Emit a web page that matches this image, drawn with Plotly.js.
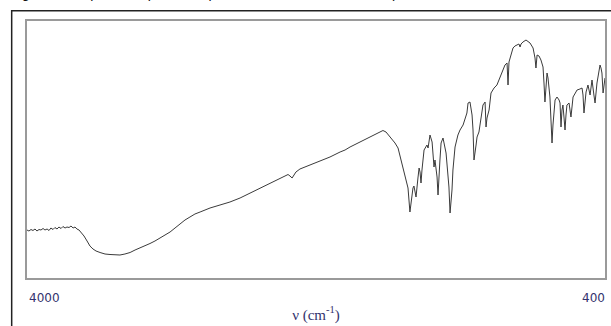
<!DOCTYPE html>
<html>
<head>
<meta charset="utf-8">
<script src="https://cdn.plot.ly/plotly-3.0.1.min.js"></script>
<style>html,body{margin:0;padding:0;background:#fff;}#chart{width:611px;height:326px;}</style>
</head>
<body>
<div id="chart"></div>
<script>
// Wavenumber (cm-1)
const wavenumber = [4000,3988,3975,3963,3950,3938,3925,3913,3900,3888,3875,3863,3851,3838,3826,3813,3801,3788,3776,3763,3751,3738,3726,3713,3701,3689,3676,
3664,3645,3626,3608,3589,3570,3545,3514,3483,3452,3421,3390,3358,3327,3296,3265,3234,3203,3172,3140,3109,3078,3047,3016,2985,2954,2922,2860,2798,2736,2673,2611,2549,2486,2424,2387,2374,2362,2349,2337,2325,2300,2237,2175,2113,2050,2019,
1988,1926,1864,1833,1801,1783,1764,1739,1708,1689,1677,1658,1646,1627,1615,1602,1596,1590,1577,1565,1558,1552,1546,1540,1527,1509,1502,1490,1477,1465,1459,1446,1440,1428,1421,1409,1390,1372,1365,1353,1347,1334,1316,1303,1284,1260,1253,1241,1228,1222,1216,1203,1197,1185,1172,1160,1147,1141,1135,1122,1110,1091,1073,1054,1035,1023,1010,1004,998,985,973,961,948,936,929,923,911,892,867,848,836,830,823,811,799,786,780,774,761,755,743,736,730,724,711,699,686,680,674,668,662,655,649,643,637,624,612,599,587,574,556,543,537,531,518,506,493,481,469,462,450,437,431,425,419,412,406,400];
// Transmittance (arbitrary units)
const transmittance = [48,47,48.5,47.5,49,47,48.5,48,49.5,48,49,47.5,50,48.5,50.5,49,51,49.5,51.5,50,51,50.5,52,50,51,49,48,
46,42,37,32,29,27,25.5,24,23.5,23,23,24,25.5,28,30,32,34.5,37,40,43,46,50,54,58,61,64,66,70,73,76,80,85,90,95,100,103,103.5,102,100,103,106,109,113,117,121,126,128,
131,136,141,144,146,147.5,146,141,135,130,122,111,101,90,66,83,90,92,81,100,110,106,95,108,128,133,130,143,136,111,118,101,83,118,135,140,125,91,65,88,108,131,143,148,153,165,175,176,163,148,118,133,141,146,158,173,176,151,160,168,185,190,193,201,208,213,215,193,216,223,230,232,233,234,231,234,236,238,235,230,220,210,223,222,218,211,195,176,205,200,181,148,135,153,178,181,178,175,151,168,173,160,148,163,173,175,161,181,185,188,189,190,183,165,186,193,183,198,183,175,195,208,213,210,205,185,193,200];

const trace = {
  x: wavenumber, y: transmittance, type: 'scatter', mode: 'lines',
  line: {color: '#3a3a3a', width: 1}, hoverinfo: 'none'
};

const tickFont = {family: 'DejaVu Sans, Verdana, sans-serif', size: 12, color: '#33336e'};

const layout = {
  width: 611, height: 326,
  margin: {l: 27, r: 6, t: 21, b: 48},
  paper_bgcolor: '#ffffff', plot_bgcolor: '#ffffff',
  showlegend: false,
  xaxis: {
    range: [4000, 400], showgrid: false, zeroline: false, showticklabels: false, ticks: '',
    showline: true, mirror: true, linecolor: '#9a9a9a', linewidth: 2,
    title: {text: 'ν (cm<sup>-1</sup>)', standoff: 30,
            font: {family: 'Liberation Serif, Times New Roman, serif', size: 15, color: '#33336e'}}
  },
  yaxis: {
    range: [0, 257], showgrid: false, zeroline: false, showticklabels: false, ticks: '',
    showline: true, mirror: true, linecolor: '#9a9a9a', linewidth: 2
  },
  shapes: [
    {type: 'rect', xref: 'paper', yref: 'paper', x0: -0.0265, x1: 1.2, y0: -0.4, y1: 1.0395,
     line: {color: '#222222', width: 1.5}, fillcolor: 'rgba(0,0,0,0)', layer: 'below'}
  ],
  annotations: [
    {text: '4000', xref: 'x', yref: 'paper', x: 4000, y: -0.078, xanchor: 'left', yanchor: 'middle',
     showarrow: false, font: tickFont, xshift: 0},
    {text: '400', xref: 'x', yref: 'paper', x: 400, y: -0.078, xanchor: 'right', yanchor: 'middle',
     showarrow: false, font: tickFont, xshift: 2},
    {text: 'Figura 4 - Espectro espectroscópico no infravermelho do compósito', xref: 'paper', yref: 'paper',
     x: -0.033, y: 1.071, xanchor: 'left', yanchor: 'bottom', showarrow: false,
     font: {family: 'Liberation Sans, Arial, sans-serif', size: 14, color: '#111'}}
  ]
};

Plotly.newPlot('chart', [trace], layout, {displayModeBar: false, staticPlot: true});
</script>
</body>
</html>
